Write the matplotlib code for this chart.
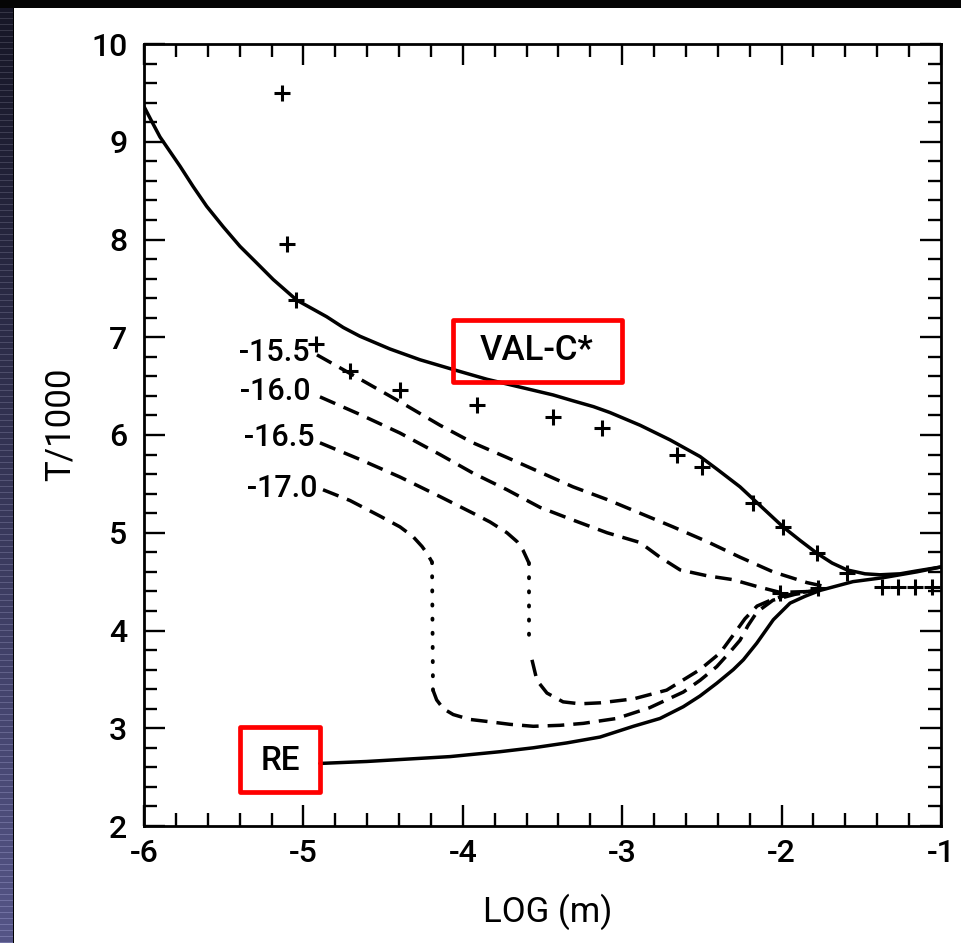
import numpy as np
import matplotlib
matplotlib.use("Agg")
import matplotlib.pyplot as plt
from matplotlib.patches import Rectangle
from matplotlib.ticker import MultipleLocator

plt.rcParams['font.family'] = ['Roboto', 'DejaVu Sans']
plt.rcParams['font.weight'] = 'medium'
plt.rcParams['axes.unicode_minus'] = False

# ---------------- data ----------------
valc_x = [-6.0, -5.952, -5.900, -5.837, -5.774, -5.691, -5.607, -5.503, -5.398, -5.293, -5.189,
          -5.042, -4.854, -4.750, -4.645, -4.457, -4.269, -4.061, -3.848, -3.641, -3.434, -3.309,
          -3.180, -3.077, -2.888, -2.700, -2.512, -2.405, -2.261, -2.136, -1.991, -1.883, -1.778,
          -1.683, -1.590, -1.477, -1.383, -1.257, -1.151, -1.0]
valc_y = [9.36, 9.21, 9.05, 8.90, 8.75, 8.54, 8.34, 8.13, 7.93, 7.76, 7.59,
          7.38, 7.21, 7.10, 7.01, 6.88, 6.77, 6.67, 6.57, 6.49, 6.41, 6.35,
          6.29, 6.23, 6.10, 5.95, 5.78, 5.65, 5.47, 5.28, 5.06, 4.92, 4.79,
          4.69, 4.62, 4.58, 4.57, 4.58, 4.61, 4.65]

re_x = [-4.896, -4.603, -4.394, -4.080, -3.767, -3.558, -3.348, -3.139, -2.930, -2.763, -2.617,
        -2.512, -2.407, -2.303, -2.240, -2.156, -2.052, -1.947, -1.853, -1.759, -1.552, -1.364,
        -1.151, -1.0]
re_y = [2.64, 2.66, 2.68, 2.71, 2.76, 2.80, 2.85, 2.91, 3.02, 3.10, 3.22,
        3.33, 3.46, 3.60, 3.70, 3.87, 4.11, 4.28, 4.35, 4.41, 4.50, 4.54,
        4.60, 4.65]

m155_x = [-4.915, -4.708, -4.394, -4.143, -3.936, -3.723, -3.516, -3.309, -3.095, -2.888, -2.681,
          -2.468, -2.261, -2.054, -1.841, -1.70]
m155_y = [6.82, 6.63, 6.34, 6.10, 5.92, 5.77, 5.62, 5.47, 5.34, 5.20, 5.06,
          4.91, 4.75, 4.60, 4.49, 4.44]

m160_x = [-4.896, -4.645, -4.394, -4.143, -3.936, -3.723, -3.516, -3.309, -3.095, -2.888, -2.763,
          -2.637, -2.468, -2.305, -2.154, -2.010, -1.80]
m160_y = [6.39, 6.21, 6.02, 5.80, 5.61, 5.44, 5.26, 5.13, 5.00, 4.90, 4.75,
          4.62, 4.56, 4.52, 4.45, 4.39, 4.40]

m165_up_x = [-4.896, -4.645, -4.394, -4.143, -3.936, -3.829, -3.723, -3.660, -3.622, -3.585]
m165_up_y = [5.92, 5.75, 5.57, 5.37, 5.20, 5.11, 5.00, 4.91, 4.82, 4.69]
m165_low_x = [-3.585, -3.566, -3.535, -3.472, -3.371, -3.265, -3.139, -2.930, -2.721, -2.512,
              -2.386, -2.305, -2.230, -2.154, -2.041, -1.916, -1.790]
m165_low_y = [3.83, 3.70, 3.49, 3.36, 3.27, 3.25, 3.26, 3.30, 3.39, 3.60,
              3.77, 3.95, 4.12, 4.25, 4.33, 4.38, 4.41]

m170_up_x = [-4.877, -4.708, -4.519, -4.394, -4.312, -4.256, -4.225, -4.193]
m170_up_y = [5.44, 5.33, 5.17, 5.06, 4.96, 4.86, 4.79, 4.70]
m170_low_x = [-4.187, -4.164, -4.122, -4.060, -3.955, -3.850, -3.704, -3.558, -3.390, -3.244,
              -3.035, -2.828, -2.617, -2.512, -2.407, -2.324, -2.261, -2.211, -2.154, -2.054,
              -1.916, -1.759]
m170_low_y = [3.39, 3.29, 3.20, 3.14, 3.09, 3.07, 3.04, 3.02, 3.03, 3.05,
              3.10, 3.21, 3.37, 3.49, 3.63, 3.78, 3.90, 4.05, 4.19, 4.31,
              4.37, 4.41]

obs_x = [-5.134, -5.103, -5.046, -4.921, -4.708, -4.394, -3.911, -3.434, -3.127, -2.656, -2.499,
         -2.179, -2.010, -1.991, -1.778, -1.772, -1.590, -1.370, -1.270, -1.163, -1.057]
obs_y = [9.50, 7.95, 7.38, 6.93, 6.65, 6.46, 6.31, 6.18, 6.07, 5.80, 5.67,
         5.30, 4.38, 5.06, 4.79, 4.43, 4.59, 4.45, 4.45, 4.45, 4.45]

curve_labels = ['-15.5', '-16.0', '-16.5', '-17.0']
x_ticks = [-6, -5, -4, -3, -2, -1]
y_ticks = [2, 3, 4, 5, 6, 7, 8, 9, 10]

# ---------------- figure ----------------
W, H = 961, 943
fig = plt.figure(figsize=(W / 100, H / 100), dpi=100)
fig.patch.set_facecolor('white')

# slide background remnants: left striped strip and top dark band
strip = fig.add_axes([0, 0, 14 / W, 1])
rows = np.linspace(0, 1, H)[:, None]
top_c = np.array([22, 22, 38]) / 255
bot_c = np.array([85, 85, 135]) / 255
img = top_c[None, None, :] * (1 - rows[..., None]) + bot_c[None, None, :] * rows[..., None]
img = np.repeat(img, 14, axis=1)
stripe = (np.arange(H) % 6 == 0)
img[stripe] = np.clip(img[stripe] + 0.12, 0, 1)
img[:, -1] = 0
strip.imshow(img, aspect='auto', interpolation='nearest')
strip.axis('off')
fig.patches.append(Rectangle((0, 1 - 8 / H), 1, 8 / H, transform=fig.transFigure,
                             facecolor='#050505', edgecolor='none', zorder=10))

ax = fig.add_axes([144 / W, 1 - 826 / H, (941 - 144) / W, (826 - 44) / H])
ax.set_xlim(-6, -1)
ax.set_ylim(2, 10)

lw = 2.5
dash = (0, (4.8, 2.6))
dot = (0, (0.3, 3.4))
kw_s = dict(color='black', lw=lw, solid_joinstyle='round', solid_capstyle='round')
kw_d = dict(color='black', lw=lw, linestyle=dash, dash_joinstyle='round')
kw_o = dict(color='black', lw=lw * 1.1, linestyle=dot, dash_capstyle='round')

ax.plot(valc_x, valc_y, **kw_s)
ax.plot(re_x, re_y, **kw_s)
ax.plot(m155_x, m155_y, **kw_d)
ax.plot(m160_x, m160_y, **kw_d)
ax.plot(m165_up_x, m165_up_y, **kw_d)
ax.plot([m165_up_x[-1], m165_low_x[0]], [m165_up_y[-1], m165_low_y[0]], **kw_o)
ax.plot(m165_low_x[1:], m165_low_y[1:], **kw_d)
ax.plot(m170_up_x, m170_up_y, **kw_d)
ax.plot([m170_up_x[-1], m170_low_x[0]], [m170_up_y[-1], m170_low_y[0]], **kw_o)
ax.plot(m170_low_x, m170_low_y, **kw_d)

ax.plot(obs_x, obs_y, linestyle='none', marker='+', markersize=11, mew=2.2, color='black')

# curve labels next to start of each dashed curve
starts = [(m155_x[0], m155_y[0], (-5, 2)), (m160_x[0], m160_y[0], (-7, 4)),
          (m165_up_x[0], m165_up_y[0], (-4, 4)), (m170_up_x[0], m170_up_y[0], (-4, 1))]
for lab, (sx, sy, off) in zip(curve_labels, starts):
    ax.annotate(lab, xy=(sx, sy), xytext=off, textcoords='offset points',
                ha='right', va='center', fontsize=22)

# red label boxes
ax.add_patch(Rectangle((-4.061, 6.542), 1.060, 0.634, fill=False, edgecolor='#ff0000',
                       lw=3.4, joinstyle='round', zorder=5))
ax.text(-3.535, 6.86, 'VAL-C*', ha='center', va='center', fontsize=25, zorder=6)
ax.add_patch(Rectangle((-5.398, 2.348), 0.502, 0.665, fill=False, edgecolor='#ff0000',
                       lw=3.4, joinstyle='round', zorder=5))
ax.text(-5.147, 2.66, 'RE', ha='center', va='center', fontsize=24, zorder=6)

# axes styling
ax.set_xticks(x_ticks)
ax.set_yticks(y_ticks)
ax.set_xticklabels([str(t) for t in x_ticks])
ax.set_yticklabels([str(t) for t in y_ticks])
ax.xaxis.set_minor_locator(MultipleLocator(0.2))
ax.yaxis.set_minor_locator(MultipleLocator(0.2))
ax.tick_params(which='both', direction='in', top=True, right=True, width=1.7, colors='black')
ax.tick_params(which='major', length=15, labelsize=23)
ax.tick_params(axis='x', which='major', pad=9)
ax.tick_params(axis='y', which='major', pad=12)
ax.tick_params(which='minor', length=9.5)
for s in ax.spines.values():
    s.set_linewidth(2.0)

ax.set_xlabel('LOG (m)', fontsize=25)
ax.set_ylabel('T/1000', fontsize=25)
ax.xaxis.set_label_coords(0.506, -0.087)
ax.yaxis.set_label_coords(-0.085, 0.514)

fig.savefig('out.png', dpi=100)
